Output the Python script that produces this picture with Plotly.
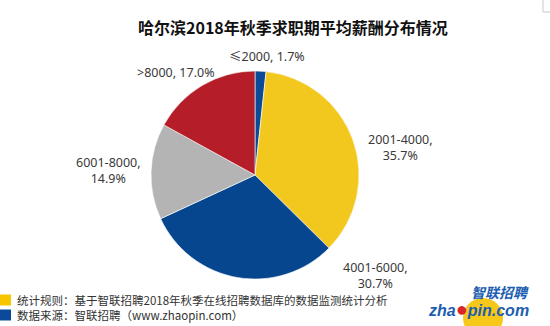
import plotly.graph_objects as go

W, H = 550, 326

categories = ["≤2000", "2001-4000", "4001-6000", "6001-8000", ">8000"]
shares = [1.7, 35.7, 30.7, 14.9, 17.0]
slice_colors = ["#0A4A97", "#F2C81F", "#05468F", "#B4B4B4", "#B51E28"]

title_text = "哈尔滨2018年秋季求职期平均薪酬分布情况"
note_lines = ["统计规则：基于智联招聘2018年秋季在线招聘数据库的数据监测统计分析",
              "数据来源：智联招聘（www.zhaopin.com）"]
note_colors = ["#F7C600", "#0B4A9A"]

# label layout (pixel positions of label centres, Excel best-fit style)
label_px = [(267, 56), (400, 147), (375, 275), (108, 170), (176, 72)]
label_break = [False, True, True, True, False]

def px(x):
    return x / W

def py(y):
    return 1 - y / H

cx, cy, r = 255, 175, 104
FONT = "Noto Sans, Noto Sans CJK SC, sans-serif"

fig = go.Figure(go.Pie(
    labels=categories,
    values=shares,
    sort=False,
    direction="clockwise",
    rotation=0,
    marker=dict(colors=slice_colors, line=dict(color="white", width=0.6)),
    textinfo="none",
    hoverinfo="label+percent",
    showlegend=False,
    domain=dict(x=[px(cx - r), px(cx + r)], y=[py(cy + r), py(cy - r)]),
))

annotations = []
for cat, v, (lx, ly), br in zip(categories, shares, label_px, label_break):
    sep = ",<br>" if br else ", "
    annotations.append(dict(
        x=px(lx), y=py(ly), xref="paper", yref="paper",
        text=f"{cat}{sep}{v:.1f}%", showarrow=False,
        font=dict(family=FONT, size=12.5, color="#3A3A3A"),
        xanchor="center", yanchor="middle", align="center",
    ))

annotations.append(dict(
    x=px(293), y=py(27), xref="paper", yref="paper",
    text=f"<b>{title_text}</b>", showarrow=False,
    font=dict(family="Noto Sans CJK SC, sans-serif", size=16, color="#111111"),
    xanchor="center", yanchor="middle",
))

shapes = []
for i, (line, col) in enumerate(zip(note_lines, note_colors)):
    yc = 300 + 15 * i
    shapes.append(dict(type="rect", xref="paper", yref="paper",
                       x0=px(0), x1=px(11), y0=py(yc - 5.5), y1=py(yc + 5.5),
                       fillcolor=col, line=dict(width=0)))
    annotations.append(dict(
        x=px(15), y=py(yc), xref="paper", yref="paper",
        text=line, showarrow=False,
        font=dict(family="Noto Sans CJK SC, sans-serif", size=11.5, color="#333333"),
        xanchor="left", yanchor="middle",
    ))

# logo
shapes.append(dict(type="circle", xref="paper", yref="paper",
                   x0=px(463), x1=px(503), y0=py(338), y1=py(298),
                   fillcolor="#F6C81A", line=dict(width=0), layer="below"))
annotations.append(dict(
    x=px(500), y=py(292), xref="paper", yref="paper",
    text="<b><i>智联招聘</i></b>", showarrow=False,
    font=dict(family="Noto Sans CJK SC, sans-serif", size=14, color="#1B5DB0"),
    xanchor="center", yanchor="middle",
))
annotations.append(dict(
    x=px(479), y=py(309), xref="paper", yref="paper",
    text="<b><i>zha<span style='color:#D8262A;font-size:20px'>●</span>pin.com</i></b>",
    showarrow=False,
    font=dict(family="Liberation Sans, Arial, sans-serif", size=16, color="#1B5DB0"),
    xanchor="center", yanchor="middle",
))

# small frame in the top-right corner
shapes.append(dict(type="rect", xref="paper", yref="paper",
                   x0=px(543), x1=px(551), y0=py(12), y1=py(-1),
                   fillcolor="rgba(0,0,0,0)", line=dict(color="#C8C8C8", width=1)))

fig.update_layout(
    width=W, height=H,
    margin=dict(l=0, r=0, t=0, b=0),
    paper_bgcolor="white", plot_bgcolor="white",
    annotations=annotations, shapes=shapes,
)

fig.write_html("out.html")
